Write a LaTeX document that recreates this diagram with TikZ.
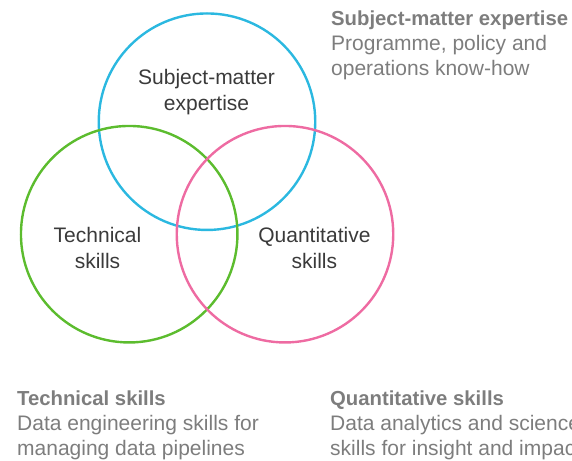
\documentclass[tikz,border=0pt]{standalone}
\usepackage{fontspec}
\setmainfont{Liberation Sans}
\definecolor{cblue}{HTML}{2BB8E0}
\definecolor{cgreen}{HTML}{5CBC2E}
\definecolor{cpink}{HTML}{EE6BA2}
\definecolor{ctext}{HTML}{3A3A3A}
\definecolor{cside}{HTML}{7D7D7D}
\begin{document}
\begin{tikzpicture}[x=1pt,y=-1pt,
  ring/.style={draw=#1,line width=2.4pt,circle,minimum size=216.5pt,inner sep=0pt},
  inlabel/.style={anchor=base,align=center,text=ctext,inner sep=0pt,
    font=\fontsize{21}{25.8}\selectfont},
  sidelabel/.style={anchor=base west,align=left,text=cside,inner sep=0pt,
    font=\fontsize{21}{24.7}\selectfont}]
\useasboundingbox (0,0) rectangle (572,460);
\clip (0,0) rectangle (572,460);
\node[ring=cblue]  (sme) at (207,121.7) {};
\node[ring=cgreen] (tech) at (129.2,234.2) {};
\node[ring=cpink]  (quant) at (285,234.2) {};
\node[inlabel] (smel) at (206.5,110.1) {Subject-matter\\expertise};
\node[inlabel] (techl) at (97.5,268.3) {Technical\\skills};
\node[inlabel] (quantl) at (314.4,268.3) {Quantitative\\skills};
\node[sidelabel] (smes) at (331,75.3) {{\bfseries\fontsize{20.3}{24.7}\selectfont Subject-matter expertise}\\Programme, policy and\\operations know-how};
\node[sidelabel] (techs) at (17,455) {{\bfseries\fontsize{20.3}{24.7}\selectfont Technical skills}\\Data engineering skills for\\managing data pipelines};
\node[sidelabel] (quants) at (330,455) {{\bfseries\fontsize{20.3}{24.7}\selectfont Quantitative skills}\\Data analytics and science\\skills for insight and impact};
\end{tikzpicture}
\end{document}
